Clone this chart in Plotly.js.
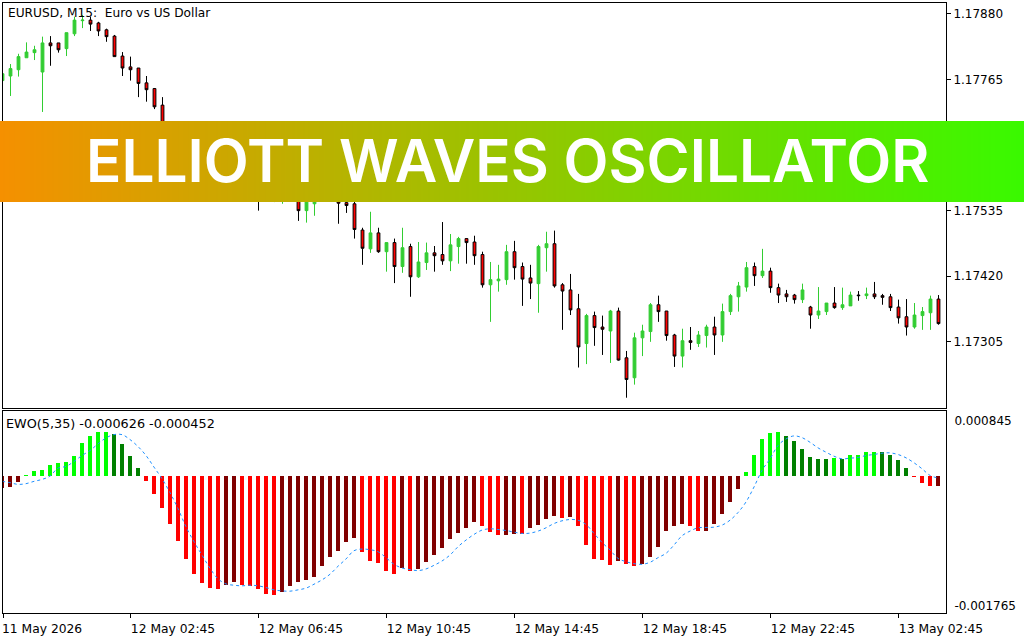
<!DOCTYPE html>
<html>
<head>
<meta charset="utf-8">
<script src="https://cdn.plot.ly/plotly-3.0.1.min.js"></script>
<style>
	html, body { margin: 0; padding: 0; background: #fff; }
	#chart { width: 1024px; height: 640px; }
</style>
</head>
<body>
<div id="chart"></div>
<script>
// EURUSD M15 candles, one entry per bar
const open = [
	1.17763,1.17771,1.17782,1.17803,1.17812,1.17778,1.17829,1.17829,1.17819,1.17845,
	1.17868,1.17869,1.17864,1.17852,1.17841,1.17806,1.17787,1.17785,1.17759,1.17749,
	1.17720,1.17690,1.17675,1.17665,1.17674,1.17654,1.17642,1.17650,1.17634,1.17624,
	1.17633,1.17614,1.17601,1.17560,1.17571,1.17580,1.17598,1.17577,1.17535,1.17547,
	1.17571,1.17564,1.17560,1.17549,1.17547,1.17501,1.17468,1.17496,1.17463,1.17479,
	1.17437,1.17472,1.17419,1.17444,1.17461,1.17458,1.17447,1.17472,1.17486,1.17480,
	1.17458,1.17405,1.17412,1.17414,1.17463,1.17437,1.17417,1.17407,1.17470,1.17477,
	1.17405,1.17396,1.17363,1.17302,1.17351,1.17331,1.17324,1.17359,1.17277,1.17242,
	1.17312,1.17323,1.17370,1.17359,1.17317,1.17280,1.17307,1.17302,1.17316,1.17331,
	1.17317,1.17358,1.17384,1.17401,1.17437,1.17421,1.17429,1.17400,1.17389,1.17387,
	1.17379,1.17366,1.17352,1.17358,1.17373,1.17365,1.17368,1.17387,1.17386,1.17389,
	1.17386,1.17384,1.17366,1.17349,1.17331,1.17351,1.17356,1.17380,
];
const high = [
	1.17775,1.17792,1.17810,1.17830,1.17824,1.17840,1.17841,1.17829,1.17847,1.17875,
	1.17878,1.17875,1.17866,1.17854,1.17843,1.17813,1.17805,1.17785,1.17771,1.17750,
	1.17734,1.17692,1.17682,1.17680,1.17677,1.17659,1.17656,1.17653,1.17639,1.17636,
	1.17636,1.17618,1.17607,1.17595,1.17595,1.17601,1.17604,1.17586,1.17577,1.17580,
	1.17577,1.17569,1.17563,1.17557,1.17554,1.17505,1.17533,1.17505,1.17479,1.17486,
	1.17505,1.17477,1.17480,1.17479,1.17473,1.17515,1.17494,1.17489,1.17486,1.17491,
	1.17463,1.17445,1.17440,1.17475,1.17482,1.17444,1.17440,1.17475,1.17498,1.17500,
	1.17408,1.17424,1.17389,1.17354,1.17358,1.17351,1.17361,1.17365,1.17289,1.17321,
	1.17335,1.17373,1.17386,1.17359,1.17319,1.17328,1.17331,1.17324,1.17335,1.17349,
	1.17372,1.17389,1.17410,1.17445,1.17444,1.17468,1.17435,1.17407,1.17396,1.17389,
	1.17407,1.17368,1.17401,1.17373,1.17401,1.17400,1.17393,1.17394,1.17400,1.17410,
	1.17389,1.17389,1.17379,1.17380,1.17373,1.17366,1.17386,1.17387,
];
const low = [
	1.17763,1.17736,1.17770,1.17803,1.17799,1.17708,1.17789,1.17812,1.17806,1.17841,
	1.17855,1.17850,1.17841,1.17831,1.17805,1.17771,1.17763,1.17734,1.17726,1.17713,
	1.17677,1.17665,1.17653,1.17656,1.17645,1.17633,1.17636,1.17624,1.17615,1.17618,
	1.17604,1.17592,1.17535,1.17554,1.17550,1.17547,1.17560,1.17517,1.17514,1.17526,
	1.17554,1.17552,1.17512,1.17531,1.17486,1.17440,1.17461,1.17461,1.17428,1.17408,
	1.17426,1.17384,1.17417,1.17431,1.17428,1.17440,1.17429,1.17442,1.17442,1.17440,
	1.17400,1.17340,1.17393,1.17405,1.17414,1.17368,1.17380,1.17356,1.17428,1.17400,
	1.17326,1.17352,1.17260,1.17266,1.17298,1.17282,1.17268,1.17272,1.17207,1.17230,
	1.17280,1.17305,1.17340,1.17307,1.17261,1.17260,1.17291,1.17296,1.17295,1.17282,
	1.17305,1.17352,1.17358,1.17393,1.17403,1.17417,1.17391,1.17373,1.17375,1.17372,
	1.17373,1.17328,1.17345,1.17352,1.17363,1.17361,1.17368,1.17377,1.17380,1.17380,
	1.17370,1.17359,1.17337,1.17316,1.17328,1.17326,1.17326,1.17335,
];
const close = [
	1.17775,1.17784,1.17805,1.17813,1.17817,1.17829,1.17824,1.17817,1.17847,1.17869,
	1.17869,1.17862,1.17850,1.17840,1.17805,1.17785,1.17782,1.17758,1.17747,1.17717,
	1.17688,1.17674,1.17665,1.17674,1.17653,1.17642,1.17650,1.17633,1.17624,1.17633,
	1.17612,1.17601,1.17560,1.17586,1.17589,1.17598,1.17577,1.17535,1.17569,1.17571,
	1.17563,1.17557,1.17548,1.17544,1.17502,1.17469,1.17496,1.17463,1.17479,1.17437,
	1.17470,1.17419,1.17445,1.17461,1.17456,1.17447,1.17475,1.17486,1.17479,1.17456,
	1.17405,1.17414,1.17415,1.17463,1.17435,1.17415,1.17408,1.17472,1.17477,1.17403,
	1.17394,1.17361,1.17296,1.17351,1.17330,1.17327,1.17359,1.17273,1.17239,1.17312,
	1.17324,1.17370,1.17358,1.17316,1.17280,1.17307,1.17304,1.17317,1.17331,1.17317,
	1.17358,1.17386,1.17403,1.17435,1.17421,1.17429,1.17400,1.17387,1.17384,1.17379,
	1.17396,1.17352,1.17359,1.17373,1.17365,1.17370,1.17387,1.17386,1.17389,1.17384,
	1.17383,1.17365,1.17347,1.17331,1.17352,1.17358,1.17380,1.17337,
];

// Elliott Waves oscillator histogram
const ewo = [
	-0.000150,-0.000137,-0.000077,0.000013,0.000064,0.000077,0.000141,0.000167,0.000180,0.000270,
	0.000437,0.000527,0.000579,0.000579,0.000553,0.000424,0.000270,0.000103,-0.000064,-0.000231,
	-0.000411,-0.000617,-0.000836,-0.001067,-0.001260,-0.001376,-0.001440,-0.001453,-0.001402,-0.001363,
	-0.001402,-0.001414,-0.001453,-0.001517,-0.001530,-0.001492,-0.001414,-0.001363,-0.001337,-0.001299,
	-0.001157,-0.001041,-0.000964,-0.000849,-0.000797,-0.000977,-0.001093,-0.001119,-0.001222,-0.001260,
	-0.001183,-0.001222,-0.001196,-0.001106,-0.001016,-0.000926,-0.000810,-0.000733,-0.000669,-0.000591,
	-0.000643,-0.000720,-0.000759,-0.000755,-0.000746,-0.000750,-0.000669,-0.000630,-0.000553,-0.000514,
	-0.000540,-0.000527,-0.000643,-0.000887,-0.001067,-0.001080,-0.001144,-0.001093,-0.001131,-0.001157,
	-0.001131,-0.001041,-0.000913,-0.000707,-0.000643,-0.000617,-0.000643,-0.000707,-0.000703,-0.000617,
	-0.000489,-0.000334,-0.000167,0.000051,0.000283,0.000489,0.000566,0.000579,0.000527,0.000463,
	0.000360,0.000257,0.000231,0.000219,0.000244,0.000219,0.000283,0.000283,0.000321,0.000321,
	0.000309,0.000283,0.000206,0.000103,-0.000013,-0.000090,-0.000129,-0.000127,
];

// Dotted signal line over the histogram
const signal = [
	-0.000064,-0.000081,-0.000103,-0.000094,-0.000064,-0.000039,0.000004,0.000107,0.000129,0.000193,
	0.000270,0.000334,0.000420,0.000497,0.000540,0.000540,0.000476,0.000386,0.000270,0.000120,
	-0.000030,-0.000210,-0.000416,-0.000651,-0.000844,-0.001016,-0.001187,-0.001324,-0.001389,-0.001406,
	-0.001414,-0.001406,-0.001414,-0.001436,-0.001466,-0.001479,-0.001483,-0.001466,-0.001444,-0.001393,
	-0.001337,-0.001264,-0.001161,-0.001067,-0.000960,-0.000939,-0.000947,-0.000973,-0.001050,-0.001136,
	-0.001183,-0.001204,-0.001217,-0.001196,-0.001149,-0.001093,-0.001016,-0.000909,-0.000823,-0.000750,
	-0.000694,-0.000677,-0.000686,-0.000699,-0.000720,-0.000737,-0.000733,-0.000707,-0.000664,-0.000609,
	-0.000574,-0.000557,-0.000566,-0.000621,-0.000737,-0.000853,-0.000951,-0.001059,-0.001102,-0.001127,
	-0.001136,-0.001110,-0.001050,-0.000994,-0.000887,-0.000767,-0.000707,-0.000664,-0.000660,-0.000656,
	-0.000630,-0.000566,-0.000467,-0.000330,-0.000137,0.000077,0.000227,0.000399,0.000484,0.000523,
	0.000501,0.000441,0.000369,0.000313,0.000261,0.000227,0.000236,0.000244,0.000270,0.000283,
	0.000300,0.000304,0.000283,0.000240,0.000176,0.000099,0.000013,-0.000021,
];

const bars = ewo.map((v, i) => i);
const timeTicks = [0.125, 16, 32, 48, 64, 80, 96, 112];
const timeLabels = [
	"11 May 2026\u00a0\u00a0", "12 May 02:45", "12 May 06:45", "12 May 10:45",
	"12 May 14:45", "12 May 18:45", "12 May 22:45", "13 May 02:45",
];
const priceTicks = [1.1788, 1.17765, 1.1765, 1.17535, 1.1742, 1.17305];
const priceLabels = ["1.17880", "1.17765", "1.17650", "1.17535", "1.17420", "1.17305"];
// labels sit just inside the panel edges, so the positions differ from the printed values
const ewoTicks = [0.000716, -0.001673];
const ewoLabels = ["0.000845", "-0.001765"];
const bannerStops = [0, 1];

const FONT = { family: "'DejaVu Sans', sans-serif", size: 12, color: "#000" };
const X_DOMAIN = [3 / 1024, 946 / 1024];

// lime/green when above zero, red/dark red below, by direction against the previous bar
function ewoColor(v, i) {
	const prev = ewo[i - 1];
	if (v >= 0) return v >= prev ? "#00ff00" : "#008000";
	return v <= prev ? "#ff0000" : "#800000";
}

const traces = [
	{
		type: "candlestick",
		xaxis: "x2",
		yaxis: "y",
		x: bars,
		open: open,
		high: high,
		low: low,
		close: close,
		whiskerwidth: 0,
		increasing: { line: { color: "#32cd32", width: 1 }, fillcolor: "#32cd32" },
		decreasing: { line: { color: "#000", width: 1 }, fillcolor: "#ff0000" },
		hoverinfo: "skip",
		showlegend: false,
	},
	{
		type: "bar",
		xaxis: "x",
		yaxis: "y2",
		x: bars,
		y: ewo,
		width: 0.5,
		marker: { color: ewo.map(ewoColor), line: { width: 0 } },
		hoverinfo: "skip",
		showlegend: false,
	},
	{
		type: "scatter",
		mode: "lines",
		xaxis: "x",
		yaxis: "y2",
		x: bars,
		y: signal,
		line: { color: "#1e90ff", width: 1, dash: "dot", shape: "spline" },
		hoverinfo: "skip",
		showlegend: false,
	},
	{
		type: "heatmap",
		xaxis: "x3",
		yaxis: "y3",
		x: bannerStops,
		y: bannerStops,
		z: [bannerStops, bannerStops],
		zsmooth: "best",
		colorscale: [[0, "#f59000"], [1, "#39fa00"]],
		showscale: false,
		hoverinfo: "skip",
	},
];

const layout = {
	width: 1024,
	height: 640,
	margin: { l: 0, r: 0, t: 0, b: 0 },
	paper_bgcolor: "#fff",
	plot_bgcolor: "#fff",
	font: FONT,
	boxgap: 0.5,
	bargap: 0,
	showlegend: false,
	xaxis: {
		domain: X_DOMAIN,
		range: [0.125, 118],
		anchor: "y2",
		tickmode: "array",
		tickvals: timeTicks,
		ticktext: timeLabels,
		tickfont: { family: FONT.family, size: 12.3, color: "#000" },
		ticks: "outside",
		ticklen: 4,
		tickcolor: "#000",
		ticklabelshift: 43,
		showgrid: false,
		zeroline: false,
		showline: true,
		linecolor: "#000",
		linewidth: 1,
		mirror: true,
	},
	xaxis2: {
		domain: X_DOMAIN,
		// half a pixel over, so the candle bodies land on whole pixels
		range: [0.0625, 117.9375],
		anchor: "y",
		rangeslider: { visible: false },
		showticklabels: false,
		ticks: "",
		showgrid: false,
		zeroline: false,
		showline: true,
		linecolor: "#000",
		linewidth: 1,
		mirror: true,
	},
	xaxis3: { domain: [0, 1], range: [0, 1], anchor: "y3", visible: false, fixedrange: true },
	yaxis: {
		domain: [(640 - 408) / 640, (640 - 3) / 640],
		range: [1.17189, 1.17899],
		anchor: "x2",
		side: "right",
		tickmode: "array",
		tickvals: priceTicks,
		ticktext: priceLabels,
		ticks: "outside",
		ticklen: 4,
		tickcolor: "#000",
		showgrid: false,
		zeroline: false,
		showline: true,
		linecolor: "#000",
		linewidth: 1,
		mirror: true,
	},
	yaxis2: {
		domain: [(640 - 613) / 640, (640 - 411) / 640],
		range: [-0.001765, 0.000845],
		anchor: "x",
		side: "right",
		tickmode: "array",
		tickvals: ewoTicks,
		ticktext: ewoLabels,
		ticks: "",
		ticklabelstandoff: 5,
		showgrid: false,
		zeroline: false,
		showline: true,
		linecolor: "#000",
		linewidth: 1,
		mirror: true,
	},
	yaxis3: {
		domain: [(640 - 202) / 640, (640 - 121) / 640],
		range: [0, 1],
		anchor: "x3",
		visible: false,
		fixedrange: true,
	},
	annotations: [
		{
			text: "EURUSD, M15:\u00a0\u00a0Euro vs US Dollar",
			xref: "paper", yref: "paper",
			x: 6 / 1024, y: (640 - 13) / 640,
			xanchor: "left", yanchor: "middle",
			showarrow: false,
			font: { family: FONT.family, size: 12.2, color: "#000" },
		},
		{
			text: "EWO(5,35) -0.000626 -0.000452",
			xref: "paper", yref: "paper",
			x: 4 / 1024, y: (640 - 423) / 640,
			xanchor: "left", yanchor: "middle",
			showarrow: false,
			font: { family: FONT.family, size: 12.8, color: "#000" },
		},
		{
			text: "ELLIOTT WAVES OSCILLATOR",
			xref: "paper", yref: "paper",
			x: 507 / 1024, y: (640 - 160) / 640,
			xanchor: "center", yanchor: "middle",
			showarrow: false,
			font: { family: "Inter, sans-serif", size: 58.5, weight: 600, color: "#fff" },
		},
	],
};

Plotly.newPlot("chart", traces, layout, { staticPlot: true, displayModeBar: false });
</script>
</body>
</html>
